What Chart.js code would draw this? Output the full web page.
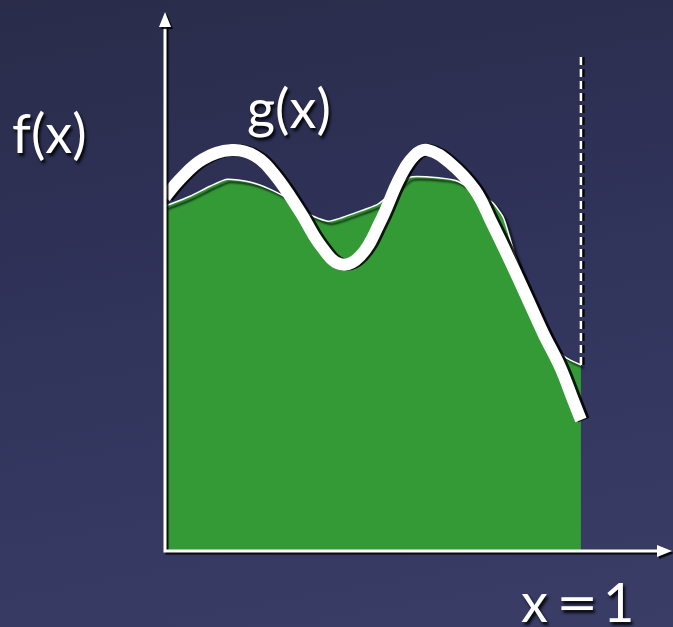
<!DOCTYPE html>
<html>
<head>
<meta charset="utf-8">
<title>f(x) and g(x)</title>
<script src="https://cdn.jsdelivr.net/npm/chart.js@4.4.1/dist/chart.umd.min.js"></script>
<style>
  html, body { margin: 0; padding: 0; }
  body {
    width: 673px; height: 627px; overflow: hidden;
    background: linear-gradient(170deg, #2a2c4a 0%, #30335a 45%, #3a3d66 100%);
  }
  canvas { display: block; }
</style>
</head>
<body>
<canvas id="area" width="673" height="627"></canvas>
<script>
'use strict';

// f(x): the shaded curve, sampled on [0, 1]
const fX = [0, 0.060, 0.108, 0.149, 0.204, 0.252, 0.300, 0.325, 0.392, 0.457, 0.512, 0.553, 0.589,
	0.661, 0.704, 0.757, 0.788, 0.813, 0.827, 0.839, 0.877, 0.921, 0.942, 0.966, 1];
const fY = [0.829, 0.853, 0.877, 0.894, 0.887, 0.870, 0.844, 0.820, 0.793, 0.813, 0.834, 0.868, 0.899,
	0.897, 0.889, 0.856, 0.837, 0.803, 0.760, 0.719, 0.615, 0.524, 0.483, 0.464, 0.447];

// g(x): the smooth approximating curve
const gX = [0, 0.036, 0.091, 0.161, 0.216, 0.264, 0.325, 0.373, 0.421, 0.469, 0.517, 0.565,
	0.601, 0.632, 0.685, 0.745, 0.786, 0.825, 0.873, 0.909, 0.950, 0.981, 1];
const gY = [0.851, 0.894, 0.942, 0.964, 0.950, 0.904, 0.815, 0.736, 0.690, 0.709, 0.791, 0.899,
	0.952, 0.964, 0.933, 0.868, 0.788, 0.707, 0.603, 0.524, 0.442, 0.363, 0.315];

const xEnd = 1;
const labelF = 'f(x)';
const labelG = 'g(x)';
const labelEnd = ['x', '=', '1'];

const toPoints = (xs, ys) => xs.map((x, i) => ({ x: x, y: ys[i] }));

const shadowPlugin = {
	id: 'lineShadow',
	beforeDatasetDraw(chart, args) {
		const ctx = chart.ctx;
		ctx.save();
		ctx.shadowColor = 'rgba(0, 0, 0, 0.85)';
		if (args.index === 1) {
			ctx.shadowOffsetX = 3;
			ctx.shadowOffsetY = 3;
			ctx.shadowBlur = 2;
		} else {
			ctx.shadowOffsetX = 3;
			ctx.shadowOffsetY = 0;
			ctx.shadowBlur = 0;
		}
	},
	afterDatasetDraw(chart) {
		chart.ctx.restore();
	},
};

const axesPlugin = {
	id: 'arrowAxes',
	beforeDatasetsDraw(chart) {
		// dashed marker at x = 1, down to where f ends
		const ctx = chart.ctx;
		const px = chart.scales.x.getPixelForValue(xEnd);
		const py = chart.scales.y.getPixelForValue(fY[fY.length - 1]);
		ctx.save();
		ctx.setLineDash([8, 4]);
		ctx.lineWidth = 2.5;
		ctx.strokeStyle = 'rgba(0, 0, 0, 0.9)';
		ctx.beginPath();
		ctx.moveTo(px + 2.5, 57);
		ctx.lineTo(px + 2.5, py);
		ctx.stroke();
		ctx.strokeStyle = '#ffffff';
		ctx.beginPath();
		ctx.moveTo(px, 57);
		ctx.lineTo(px, py);
		ctx.stroke();
		ctx.restore();
	},
	afterDraw(chart) {
		const ctx = chart.ctx;
		const area = chart.chartArea;
		const x0 = area.left;
		const y0 = area.bottom;

		ctx.save();
		ctx.shadowColor = 'rgba(0, 0, 0, 0.9)';
		ctx.shadowOffsetX = 2;
		ctx.shadowOffsetY = 2;
		ctx.shadowBlur = 1;
		ctx.strokeStyle = '#ffffff';
		ctx.fillStyle = '#ffffff';
		ctx.lineWidth = 3;
		ctx.beginPath();
		ctx.moveTo(x0, y0 + 1.5);
		ctx.lineTo(x0, area.top + 12);
		ctx.moveTo(x0 - 1.5, y0);
		ctx.lineTo(area.right - 12, y0);
		ctx.stroke();

		// arrow heads
		ctx.beginPath();
		ctx.moveTo(x0, area.top);
		ctx.lineTo(x0 - 6, area.top + 15);
		ctx.lineTo(x0 + 6, area.top + 15);
		ctx.closePath();
		ctx.fill();
		ctx.beginPath();
		ctx.moveTo(area.right, y0);
		ctx.lineTo(area.right - 15, y0 - 6);
		ctx.lineTo(area.right - 15, y0 + 6);
		ctx.closePath();
		ctx.fill();

		// labels
		ctx.shadowOffsetX = 2;
		ctx.shadowOffsetY = 3;
		ctx.shadowBlur = 3;
		ctx.font = '54px Lato, "Open Sans", sans-serif';
		ctx.textBaseline = 'alphabetic';
		ctx.textAlign = 'left';
		ctx.fillText(labelF, 12, 153);
		ctx.fillText(labelG, 247, 128);

		// x = 1, spaced out under the dashed marker
		ctx.fillText(labelEnd[0], 521, 622);
		ctx.save();
		ctx.translate(556, 622);
		ctx.scale(1.35, 1);
		ctx.fillText(labelEnd[1], 0, 0);
		ctx.restore();
		ctx.fillText(labelEnd[2], 603, 622);
		ctx.restore();
	},
};

const ctx = document.getElementById('area');

new Chart(ctx, {
	type: 'line',
	data: {
		datasets: [
			{
				label: labelG,
				data: toPoints(gX, gY),
				borderColor: '#ffffff',
				borderWidth: 12,
				borderCapStyle: 'butt',
				borderJoinStyle: 'round',
				tension: 0.4,
				pointRadius: 0,
				fill: false,
				order: 0,
			},
			{
				label: labelF,
				data: toPoints(fX, fY),
				borderColor: '#ffffff',
				borderWidth: 1.5,
				backgroundColor: '#339a36',
				tension: 0.2,
				pointRadius: 0,
				fill: 'origin',
				order: 1,
			},
		],
	},
	options: {
		responsive: false,
		devicePixelRatio: 1,
		animation: false,
		layout: {
			padding: { left: 165, top: 12, right: 1, bottom: 76 },
		},
		scales: {
			x: { type: 'linear', min: 0, max: 1.219, display: false },
			y: { type: 'linear', min: 0, max: 1.296, display: false },
		},
		plugins: {
			legend: { display: false },
			tooltip: { enabled: false },
		},
	},
	plugins: [shadowPlugin, axesPlugin],
});
</script>
</body>
</html>
